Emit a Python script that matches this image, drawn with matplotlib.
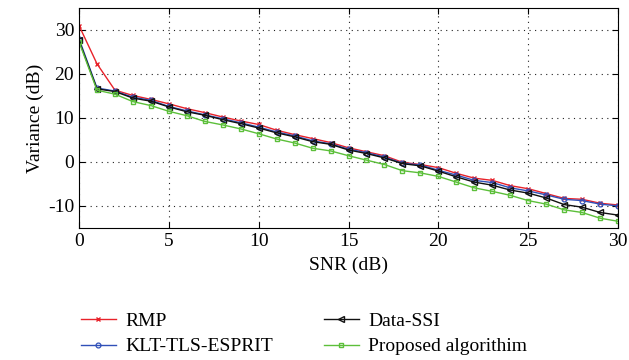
import matplotlib
matplotlib.use("Agg")
import matplotlib.pyplot as plt
import numpy as np

snr = list(range(0, 31))

rmp = [31.0, 22.3, 16.3, 15.1, 14.2, 13.2, 12.1, 11.2, 10.2, 9.3, 8.5, 7.2, 6.2, 5.3, 4.4,
       3.2, 2.3, 1.4, -0.1, -0.6, -1.3, -2.6, -3.7, -4.2, -5.4, -6.1, -7.2, -8.3, -8.5, -9.4, -9.8]
klt = [28.0, 16.8, 16.1, 14.7, 14.0, 12.6, 11.6, 10.7, 9.8, 8.9, 7.9, 6.8, 5.9, 4.8, 4.1,
       2.9, 2.1, 1.1, -0.3, -0.7, -1.9, -3.0, -4.2, -4.7, -5.9, -6.6, -7.5, -8.5, -8.8, -9.6, -10.0]
data_ssi = [27.6, 16.6, 16.0, 14.5, 13.8, 12.5, 11.4, 10.6, 9.6, 8.7, 7.7, 6.6, 5.7, 4.6, 4.0,
            2.7, 1.9, 0.9, -0.4, -0.9, -2.1, -3.4, -4.6, -5.3, -6.4, -7.1, -8.2, -9.7, -10.3, -11.5, -12.1]
proposed = [27.3, 16.3, 15.4, 13.7, 12.8, 11.5, 10.5, 9.2, 8.4, 7.5, 6.4, 5.2, 4.3, 3.1, 2.5,
            1.4, 0.4, -0.6, -2.0, -2.5, -3.3, -4.6, -5.9, -6.7, -7.6, -8.8, -9.6, -10.9, -11.5, -12.8, -13.5]

xticks = [0, 5, 10, 15, 20, 25, 30]
yticks = [-10, 0, 10, 20, 30]

plt.rcParams['font.family'] = ['Liberation Serif', 'DejaVu Serif']
fs = 14

fig = plt.figure(figsize=(6.29, 3.6), dpi=100)
ax = fig.add_axes([0.1256, 0.367, 0.857, 0.611])

lw = 1.0
ax.plot(snr, rmp, color='#e8222a', lw=lw, marker='x', ms=3, mew=1.0, label='RMP')
ax.plot(snr, klt, color='#3050b8', lw=lw, marker='o', ms=3.5, mfc='none', mew=0.9, label='KLT-TLS-ESPRIT')
ax.plot(snr, data_ssi, color='#111111', lw=lw, marker='<', ms=4, mfc='none', mew=1.0, label='Data-SSI')
ax.plot(snr, proposed, color='#5cbf3a', lw=lw, marker='s', ms=3, mfc='none', mew=1.0, label='Proposed algorithim')

ax.set_xlim(0, 30)
ax.set_ylim(-15, 35)
ax.set_xticks(xticks)
ax.set_yticks(yticks)
ax.set_yticklabels([str(v) for v in yticks])
ax.grid(True, linestyle=(0, (1, 4)), color='#222222', linewidth=0.8)
ax.tick_params(direction='in', top=True, right=True, labelsize=fs, length=4, width=0.8)
for s in ax.spines.values():
    s.set_linewidth(0.8)

ax.set_xlabel('SNR (dB)', fontsize=fs, labelpad=5)
ax.set_ylabel('Variance (dB)', fontsize=fs, labelpad=3)

leg = fig.legend(loc='upper left', bbox_to_anchor=(0.116, 0.155), ncol=2,
                 frameon=False, fontsize=fs, handlelength=1.8, columnspacing=2.6,
                 labelspacing=0.42, handletextpad=0.5, borderaxespad=0)

fig.savefig('out.png', dpi=100)
